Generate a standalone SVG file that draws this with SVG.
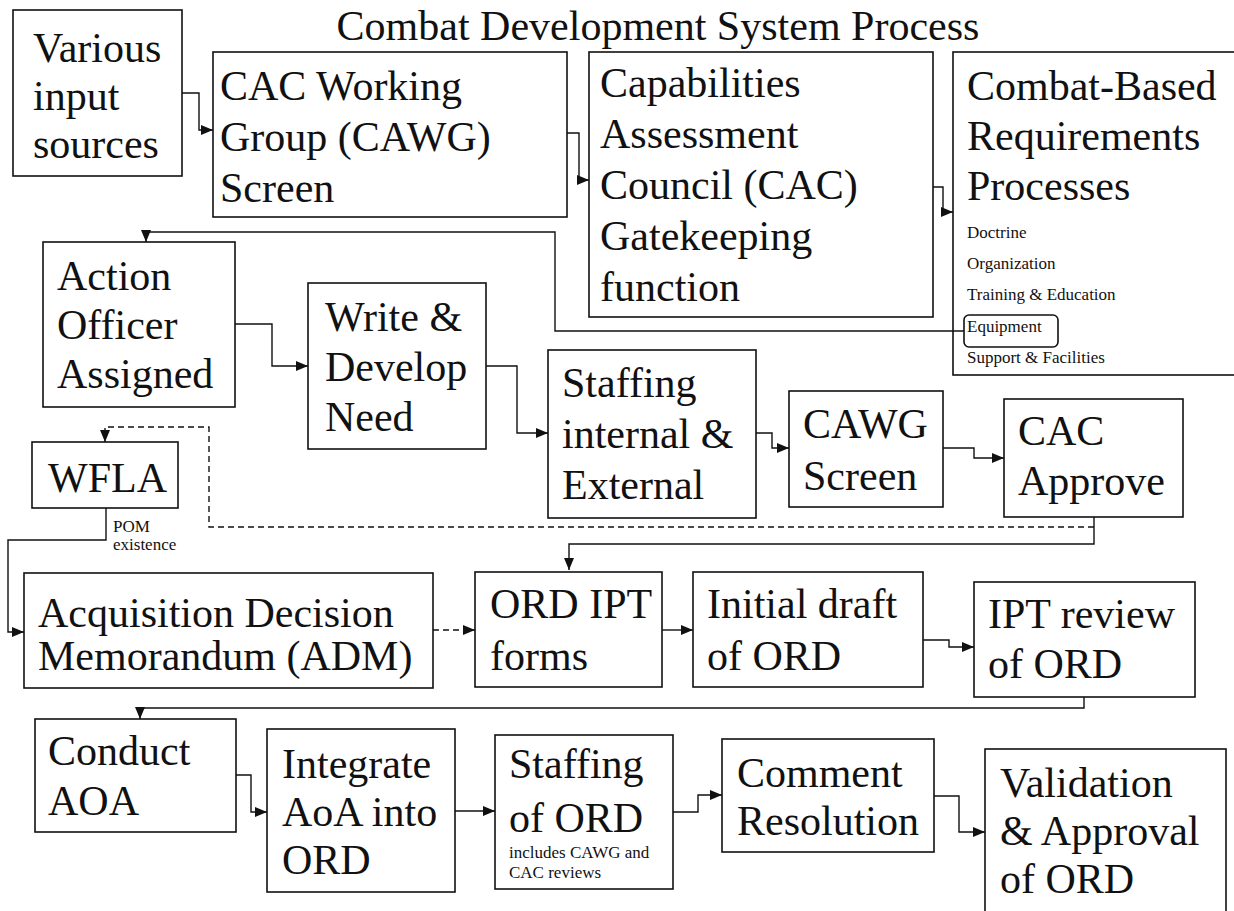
<svg xmlns="http://www.w3.org/2000/svg" width="1234" height="911" viewBox="0 0 1234 911">
<style>
.b{fill:none;stroke:#111;stroke-width:1.6}
.t{font-family:"Liberation Serif","Times New Roman",serif;font-size:42px;fill:#111}
.s{font-family:"Liberation Serif","Times New Roman",serif;font-size:17px;fill:#111}
.c{fill:none;stroke:#111;stroke-width:1.4}
.d{stroke-dasharray:6 4}
</style>
<defs>
<marker id="ah" markerWidth="12" markerHeight="10" refX="12" refY="5" orient="auto" markerUnits="userSpaceOnUse"><path d="M0,0 L12,5 L0,10 z" fill="#111"/></marker>
</defs>
<rect width="1234" height="911" fill="#fff"/>
<text class="t" x="658" y="40" text-anchor="middle">Combat Development System Process</text>

<g id="connectors">
<path class="c" d="M182,93 H199 V130 H213" marker-end="url(#ah)"/>
<path class="c" d="M567,133 H579 V180 H589" marker-end="url(#ah)"/>
<path class="c" d="M933,187 H943 V212 H953" marker-end="url(#ah)"/>
<path class="c" d="M964,331 H555 V232 H146 V242" marker-end="url(#ah)"/>
<path class="c" d="M235,324 H272 V366 H308" marker-end="url(#ah)"/>
<path class="c" d="M486,366 H517 V433 H548" marker-end="url(#ah)"/>
<path class="c" d="M756,433 H772 V448 H789" marker-end="url(#ah)"/>
<path class="c" d="M943,448 H974 V458 H1004" marker-end="url(#ah)"/>
<path class="c" d="M1094,517 V544 H569 V570" marker-end="url(#ah)"/>
<path class="c d" d="M1094,527 H209 V427 H105 V442" marker-end="url(#ah)"/>
<path class="c" d="M106,508 V540 H8 V632 H24" marker-end="url(#ah)"/>
<path class="c d" d="M433,630 H475" marker-end="url(#ah)"/>
<path class="c" d="M662,630 H693" marker-end="url(#ah)"/>
<path class="c" d="M923,640 H949 V647 H974" marker-end="url(#ah)"/>
<path class="c" d="M1084,697 V708 H140 V719" marker-end="url(#ah)"/>
<path class="c" d="M236,775 H251 V812 H267" marker-end="url(#ah)"/>
<path class="c" d="M455,811 H495" marker-end="url(#ah)"/>
<path class="c" d="M673,812 H698 V795 H722" marker-end="url(#ah)"/>
<path class="c" d="M934,796 H959 V832 H985" marker-end="url(#ah)"/>
</g>

<g id="various">
<rect class="b" x="13" y="10" width="169" height="166"/>
<text class="t"><tspan x="33" y="62">Various</tspan><tspan x="33" y="110">input</tspan><tspan x="33" y="158">sources</tspan></text>
</g>
<g id="cawg">
<rect class="b" x="213" y="52" width="354" height="165"/>
<text class="t"><tspan x="220" y="100">CAC Working</tspan><tspan x="220" y="151">Group (CAWG)</tspan><tspan x="220" y="202">Screen</tspan></text>
</g>
<g id="cac">
<rect class="b" x="589" y="52" width="344" height="265"/>
<text class="t"><tspan x="600" y="97">Capabilities</tspan><tspan x="600" y="148">Assessment</tspan><tspan x="600" y="199">Council (CAC)</tspan><tspan x="600" y="250">Gatekeeping</tspan><tspan x="600" y="301">function</tspan></text>
</g>
<g id="combat">
<rect class="b" x="953" y="52" width="300" height="323"/>
<text class="t"><tspan x="967" y="100">Combat-Based</tspan><tspan x="967" y="150">Requirements</tspan><tspan x="967" y="200">Processes</tspan></text>
<text class="s"><tspan x="967" y="238">Doctrine</tspan><tspan x="967" y="269">Organization</tspan><tspan x="967" y="300">Training &amp; Education</tspan><tspan x="967" y="332">Equipment</tspan><tspan x="967" y="363">Support &amp; Facilities</tspan></text>
<rect class="b" x="964" y="315" width="94" height="32" rx="5"/>
</g>
<g id="action">
<rect class="b" x="43" y="242" width="192" height="165"/>
<text class="t"><tspan x="57" y="290">Action</tspan><tspan x="57" y="339">Officer</tspan><tspan x="57" y="388">Assigned</tspan></text>
</g>
<g id="write">
<rect class="b" x="308" y="283" width="178" height="166"/>
<text class="t"><tspan x="325" y="331">Write &amp;</tspan><tspan x="325" y="381">Develop</tspan><tspan x="325" y="431">Need</tspan></text>
</g>
<g id="staffing1">
<rect class="b" x="548" y="350" width="208" height="168"/>
<text class="t"><tspan x="562" y="397">Staffing</tspan><tspan x="562" y="448">internal &amp;</tspan><tspan x="562" y="499">External</tspan></text>
</g>
<g id="cawgscreen">
<rect class="b" x="789" y="391" width="154" height="116"/>
<text class="t"><tspan x="803" y="438">CAWG</tspan><tspan x="803" y="490">Screen</tspan></text>
</g>
<g id="cacapprove">
<rect class="b" x="1004" y="399" width="179" height="118"/>
<text class="t"><tspan x="1018" y="445">CAC</tspan><tspan x="1018" y="495">Approve</tspan></text>
</g>
<g id="wfla">
<rect class="b" x="32" y="442" width="146" height="66"/>
<text class="t" x="48" y="492">WFLA</text>
<text class="s"><tspan x="113" y="532">POM</tspan><tspan x="113" y="550">existence</tspan></text>
</g>
<g id="adm">
<rect class="b" x="24" y="573" width="409" height="115"/>
<text class="t"><tspan x="38" y="627">Acquisition Decision</tspan><tspan x="38" y="670">Memorandum (ADM)</tspan></text>
</g>
<g id="ordipt">
<rect class="b" x="475" y="572" width="187" height="115"/>
<text class="t"><tspan x="490" y="618">ORD IPT</tspan><tspan x="490" y="670">forms</tspan></text>
</g>
<g id="initial">
<rect class="b" x="693" y="572" width="230" height="115"/>
<text class="t"><tspan x="707" y="618">Initial draft</tspan><tspan x="707" y="670">of ORD</tspan></text>
</g>
<g id="iptreview">
<rect class="b" x="974" y="582" width="221" height="115"/>
<text class="t"><tspan x="988" y="628">IPT review</tspan><tspan x="988" y="678">of ORD</tspan></text>
</g>
<g id="conduct">
<rect class="b" x="35" y="719" width="201" height="113"/>
<text class="t"><tspan x="48" y="765">Conduct</tspan><tspan x="48" y="815">AOA</tspan></text>
</g>
<g id="integrate">
<rect class="b" x="267" y="729" width="188" height="163"/>
<text class="t"><tspan x="282" y="778">Integrate</tspan><tspan x="282" y="826">AoA into</tspan><tspan x="282" y="874">ORD</tspan></text>
</g>
<g id="staffing2">
<rect class="b" x="495" y="735" width="178" height="154"/>
<text class="t"><tspan x="509" y="778">Staffing</tspan><tspan x="509" y="832">of ORD</tspan></text>
<text class="s"><tspan x="509" y="858">includes CAWG and</tspan><tspan x="509" y="878">CAC reviews</tspan></text>
</g>
<g id="comment">
<rect class="b" x="722" y="739" width="212" height="113"/>
<text class="t"><tspan x="737" y="787">Comment</tspan><tspan x="737" y="835">Resolution</tspan></text>
</g>
<g id="validation">
<rect class="b" x="985" y="749" width="241" height="180"/>
<text class="t"><tspan x="1000" y="797">Validation</tspan><tspan x="1000" y="845">&amp; Approval</tspan><tspan x="1000" y="893">of ORD</tspan></text>
</g>
</svg>
